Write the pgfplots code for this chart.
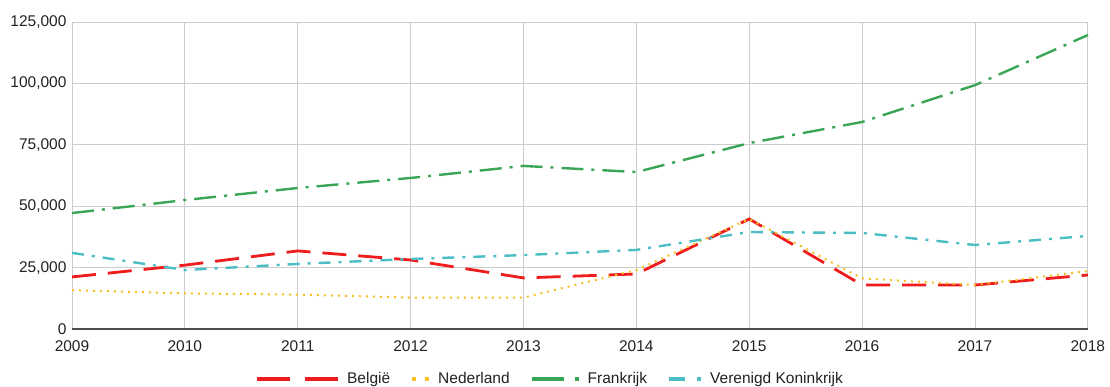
\documentclass[border=0pt]{standalone}
\usepackage{fontspec}
\setmainfont{Liberation Sans}
\usepackage{pgfplots}
\pgfplotsset{compat=1.18}
\definecolor{cBE}{HTML}{EE1C1C}
\definecolor{cNL}{HTML}{F6C026}
\definecolor{cFR}{HTML}{3AA655}
\definecolor{cUK}{HTML}{4BBDC4}
\definecolor{cgrid}{HTML}{CCCCCC}
\definecolor{ctxt}{HTML}{222222}
\begin{document}
\begin{tikzpicture}[x=1pt,y=1pt]
\useasboundingbox (-72,-57) rectangle (1038,329);
\begin{axis}[
  at={(0,0)}, anchor=south west,
  width=1016pt, height=307pt, scale only axis,
  xmin=2009, xmax=2018, ymin=0, ymax=125000,
  xtick={2009,...,2018},
  ytick={0,25000,50000,75000,100000,125000},
  x tick label style={/pgf/number format/1000 sep={}},
  y tick label style={/pgf/number format/fixed, /pgf/number format/1000 sep={,}},
  scaled y ticks=false,
  /pgf/number format/assume math mode=true,
  grid=major,
  major grid style={cgrid, line width=0.8pt},
  axis line style={draw=none},
  tick style={draw=none},
  ticklabel style={font=\fontsize{15.5}{17}\selectfont, text=ctxt},
  x tick label style={yshift=-8pt},
  y tick label style={xshift=-2pt},
  legend style={at={(0.4705,-0.163)}, anchor=center, draw=none, fill=none,
    legend columns=-1, font=\fontsize{15.5}{17}\selectfont, text=ctxt,
    /tikz/every even column/.append style={column sep=18pt},
    /tikz/every odd column/.append style={column sep=5pt}},
  clip=false,
]
\draw[ctxt!80, line width=1.2pt] (axis cs:2009,0) -- (axis cs:2018,0);
\addplot[cBE, line width=2.8pt, dash pattern=on 24pt off 12pt,
  legend image code/.code={\draw[cBE, line width=4pt, dash pattern=on 33pt off 15pt] (0pt,0pt) -- (81pt,0pt);}] coordinates {
(2009,21200) (2010,26000) (2011,31800) (2012,28100) (2013,20800)
(2014,22400) (2015,44800) (2016,17900) (2017,17900) (2018,22000)};
\addlegendentry{België}
\addplot[cNL, line width=2pt, dash pattern=on 2pt off 5pt,
  legend image code/.code={\draw[cNL, line width=4pt, dash pattern=on 4pt off 9pt] (0pt,0pt) -- (17pt,0pt);}] coordinates {
(2009,15800) (2010,14500) (2011,14000) (2012,12800) (2013,12800)
(2014,24000) (2015,44800) (2016,20600) (2017,17900) (2018,23600)};
\addlegendentry{Nederland}
\addplot[cFR, line width=2.4pt, dash pattern=on 22pt off 8pt on 3pt off 8pt,
  legend image code/.code={\draw[cFR, line width=4pt, dash pattern=on 32pt off 11pt on 4pt off 11pt] (0pt,0pt) -- (47pt,0pt);}] coordinates {
(2009,47200) (2010,52500) (2011,57400) (2012,61500) (2013,66400)
(2014,63900) (2015,75700) (2016,84300) (2017,99300) (2018,119700)};
\addlegendentry{Frankrijk}
\addplot[cUK, line width=2.4pt, dash pattern=on 12pt off 8pt on 3pt off 8pt,
  legend image code/.code={\draw[cUK, line width=4pt, dash pattern=on 16pt off 12pt on 4pt off 12pt] (0pt,0pt) -- (32pt,0pt);}] coordinates {
(2009,31000) (2010,24000) (2011,26500) (2012,28500) (2013,30100)
(2014,32200) (2015,39500) (2016,39100) (2017,34200) (2018,37900)};
\addlegendentry{Verenigd Koninkrijk}
\end{axis}
\end{tikzpicture}
\end{document}
